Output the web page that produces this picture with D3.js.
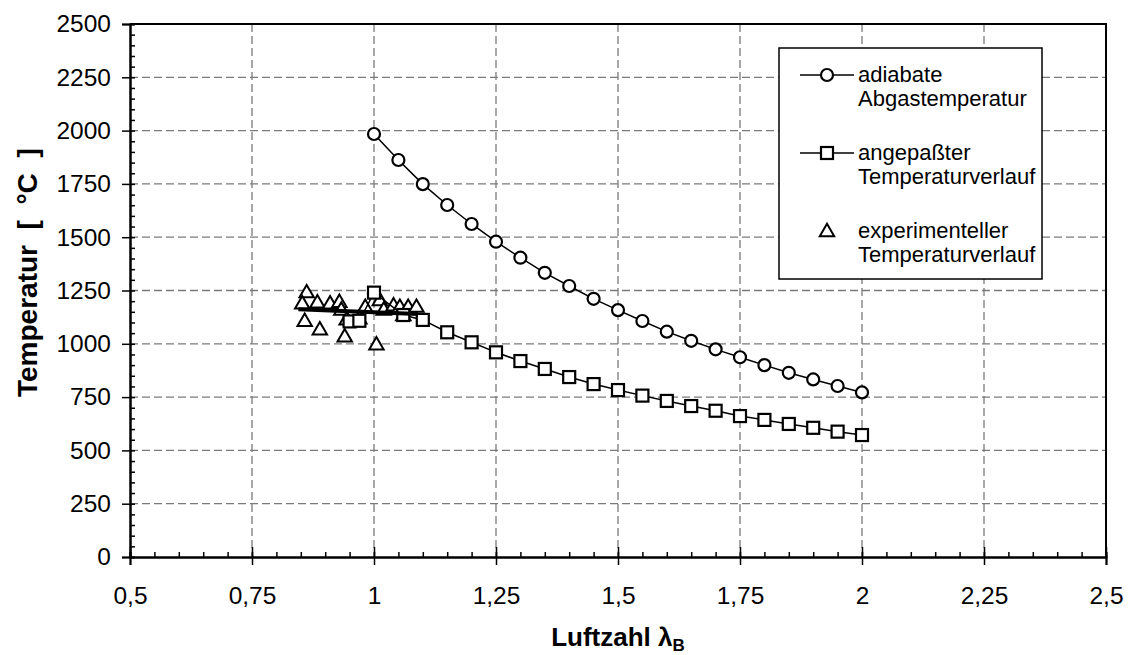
<!DOCTYPE html>
<html><head><meta charset="utf-8">
<script src="https://cdn.jsdelivr.net/npm/d3@7/dist/d3.min.js"></script>
<style>
html,body{margin:0;padding:0;background:#fff;}
text{font-family:"Liberation Sans",Arial,Helvetica,sans-serif;}
</style></head>
<body>
<svg id="chart" width="1131" height="655"></svg>
<script>
// ---- data ----
const xTickValues = [0.5, 0.75, 1, 1.25, 1.5, 1.75, 2, 2.25, 2.5];
const yTickValues = [0, 250, 500, 750, 1000, 1250, 1500, 1750, 2000, 2250, 2500];

const adiabLambda = [1.0, 1.05, 1.1, 1.15, 1.2, 1.25, 1.3, 1.35, 1.4, 1.45, 1.5, 1.55, 1.6, 1.65, 1.7, 1.75, 1.8, 1.85, 1.9, 1.95, 2.0];
const adiabTemp   = [1984, 1862, 1749, 1651, 1562, 1479, 1404, 1333, 1271, 1211, 1158, 1107, 1057, 1014, 974, 937, 900, 864, 833, 802, 772];

const fitLambda = [0.95, 0.97, 1.0, 1.06, 1.1, 1.15, 1.2, 1.25, 1.3, 1.35, 1.4, 1.45, 1.5, 1.55, 1.6, 1.65, 1.7, 1.75, 1.8, 1.85, 1.9, 1.95, 2.0];
const fitTemp   = [1105, 1108, 1240, 1135, 1112, 1054, 1007, 960, 919, 882, 844, 811, 783, 757, 732, 708, 686, 661, 643, 624, 606, 588, 572];

const expLambda = [0.862, 0.853, 0.858, 0.884, 0.889, 0.910, 0.929, 0.933, 0.940, 0.944, 0.970, 0.982, 1.005, 1.012, 1.020, 1.040, 1.053, 1.060, 1.070, 1.087];
const expTemp   = [1242, 1190, 1108, 1195, 1068, 1190, 1197, 1160, 1035, 1115, 1120, 1174, 998, 1205, 1160, 1180, 1174, 1135, 1174, 1174];

const trendLambda = [0.845, 1.09];
const trendTemp   = [1162, 1140];

const legendLabels = [["adiabate", "Abgastemperatur"], ["angepaßter", "Temperaturverlauf"], ["experimenteller", "Temperaturverlauf"]];

// ---- chart ----
const svg = d3.select("#chart");
const L = 130, R = 1106, T = 24, B = 557;
const x = d3.scaleLinear().domain([0.5, 2.5]).range([L, R]);
const y = d3.scaleLinear().domain([0, 2500]).range([B, T]);
const fmt = d => String(d).replace(".", ",");

// grid
const grid = svg.append("g").attr("stroke", "#7a7a7a").attr("stroke-width", 1.3).attr("stroke-dasharray", "8,4");
grid.selectAll(".gx").data(xTickValues.slice(1, -1)).enter().append("line")
  .attr("x1", d => x(d)).attr("x2", d => x(d)).attr("y1", T).attr("y2", B);
grid.selectAll(".gy").data(yTickValues.slice(1, -1)).enter().append("line")
  .attr("y1", d => y(d)).attr("y2", d => y(d)).attr("x1", L).attr("x2", R);

// frame (top/right)
svg.append("path").attr("d", `M${L},${T}H${R}V${B}`).attr("fill", "none").attr("stroke", "#000").attr("stroke-width", 2);

// axes
const xMinor = svg.append("g").attr("transform", `translate(0,${B})`)
  .call(d3.axisBottom(x).ticks(40).tickSize(-5).tickFormat(""));
const xMajor = svg.append("g").attr("transform", `translate(0,${B})`)
  .call(d3.axisBottom(x).tickValues(xTickValues).tickSize(8).tickPadding(22).tickFormat(fmt));
xMajor.selectAll(".tick line").attr("y1", -10);
const yMinor = svg.append("g").attr("transform", `translate(${L},0)`)
  .call(d3.axisLeft(y).ticks(50).tickSize(-5).tickFormat(""));
const yMajor = svg.append("g").attr("transform", `translate(${L},0)`)
  .call(d3.axisLeft(y).tickValues(yTickValues).tickSize(8).tickPadding(11).tickFormat(d3.format("d")));
[xMinor, xMajor, yMinor, yMajor].forEach(g => {
  g.selectAll(".domain").attr("stroke", "#000").attr("stroke-width", 2);
  g.selectAll(".tick line").attr("stroke", "#000").attr("stroke-width", 1.5);
  g.selectAll("text").attr("font-size", 24.5).attr("fill", "#000");
});

// axis titles
svg.append("text").attr("x", (L + R) / 2).attr("y", 646).attr("text-anchor", "middle")
  .attr("font-size", 26).attr("font-weight", "bold")
  .html('Luftzahl λ<tspan font-size="17" dy="5">B</tspan>');
svg.append("text").attr("transform", `translate(37,397) rotate(-90)`).attr("text-anchor", "start")
  .attr("font-size", 28).attr("font-weight", "bold").style("white-space", "pre").text("Temperatur  [  °C  ]");

const line = d3.line().x(d => x(d[0])).y(d => y(d[1]));
const tri = d3.symbol().type(d3.symbolTriangle).size(90);

// experimental triangles
svg.append("g").selectAll("path").data(d3.zip(expLambda, expTemp)).enter().append("path")
  .attr("d", tri).attr("transform", d => `translate(${x(d[0])},${y(d[1]) + 1})`)
  .attr("fill", "#fff").attr("stroke", "#000").attr("stroke-width", 2);

// fitted series
const fitData = d3.zip(fitLambda, fitTemp);
svg.append("path").datum(fitData).attr("d", line).attr("fill", "none").attr("stroke", "#000").attr("stroke-width", 1.5);
svg.append("g").selectAll("rect").data(fitData).enter().append("rect")
  .attr("x", d => x(d[0]) - 6).attr("y", d => y(d[1]) - 6).attr("width", 12).attr("height", 12)
  .attr("fill", "#fff").attr("stroke", "#000").attr("stroke-width", 2.2);

// trend line
svg.append("path").datum(d3.zip(trendLambda, trendTemp)).attr("d", line)
  .attr("fill", "none").attr("stroke", "#000").attr("stroke-width", 4);

// adiabatic series
const adData = d3.zip(adiabLambda, adiabTemp);
svg.append("path").datum(adData).attr("d", line).attr("fill", "none").attr("stroke", "#000").attr("stroke-width", 1.5);
svg.append("g").selectAll("circle").data(adData).enter().append("circle")
  .attr("cx", d => x(d[0])).attr("cy", d => y(d[1])).attr("r", 6)
  .attr("fill", "#fff").attr("stroke", "#000").attr("stroke-width", 2.2);

// legend
const lg = svg.append("g");
lg.append("rect").attr("x", 779).attr("y", 48).attr("width", 263).attr("height", 231)
  .attr("fill", "#fff").attr("stroke", "#000").attr("stroke-width", 1.5);
const ly = [75, 153, 231];
legendLabels.forEach((lab, i) => {
  const cy = ly[i];
  if (i < 2) lg.append("line").attr("x1", 800).attr("x2", 854).attr("y1", cy).attr("y2", cy).attr("stroke", "#000").attr("stroke-width", 1.5);
  if (i === 0) lg.append("circle").attr("cx", 827).attr("cy", cy).attr("r", 6).attr("fill", "#fff").attr("stroke", "#000").attr("stroke-width", 2.2);
  if (i === 1) lg.append("rect").attr("x", 821).attr("y", cy - 6).attr("width", 12).attr("height", 12).attr("fill", "#fff").attr("stroke", "#000").attr("stroke-width", 2.2);
  if (i === 2) lg.append("path").attr("d", tri).attr("transform", `translate(827,${cy + 1})`).attr("fill", "#fff").attr("stroke", "#000").attr("stroke-width", 2);
  const t = lg.append("text").attr("x", 858).attr("y", cy + 7).attr("font-size", 22);
  t.append("tspan").attr("x", 858).text(lab[0]);
  t.append("tspan").attr("x", 858).attr("dy", 23.5).text(lab[1]);
});
</script>
</body></html>
